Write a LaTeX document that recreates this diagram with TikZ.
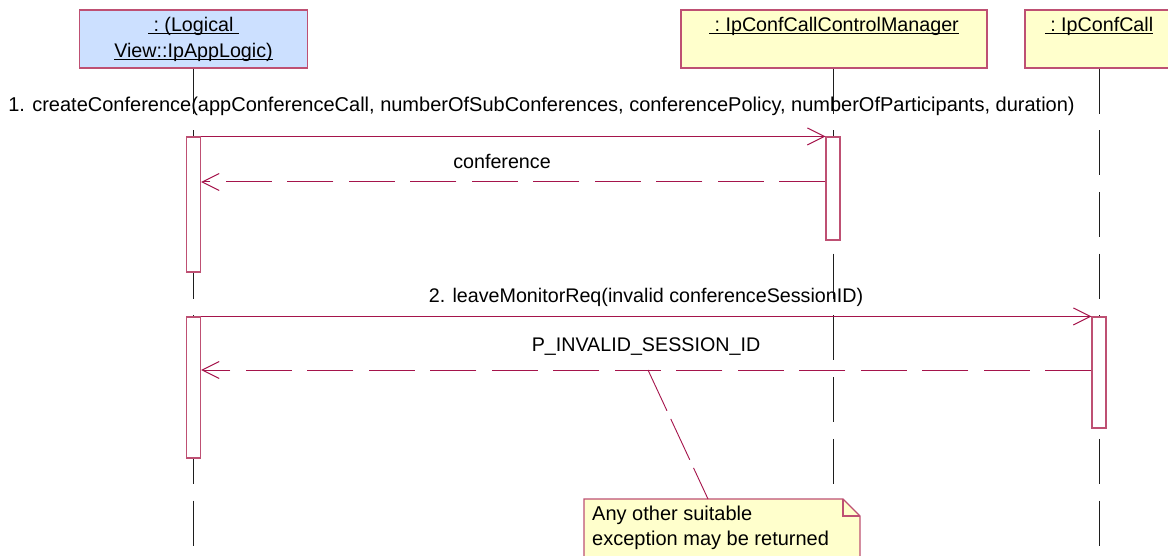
\documentclass[tikz,border=0pt]{standalone}
\usepackage{fontspec}
\setmainfont{Liberation Sans}
\usetikzlibrary{arrows.meta}
\definecolor{boxborder}{RGB}{190,80,115}
\definecolor{msgcol}{RGB}{165,20,75}
\definecolor{objblue}{RGB}{204,224,255}
\definecolor{objyellow}{RGB}{255,255,204}
\definecolor{lifecol}{RGB}{30,30,30}
\newcommand{\ulbox}[1]{\setbox0\hbox{#1}\rlap{\rule[-2.4pt]{\wd0}{1.2pt}}\box0}
\begin{document}
\begin{tikzpicture}[x=1pt,y=-1pt,
  font=\fontsize{19.7}{26}\selectfont,
  txt/.style={inner sep=0pt, anchor=base},
  objbox/.style={draw=boxborder, line width=1.2pt, inner sep=0pt, minimum height=58pt},
  lifeline/.style={draw=lifecol, line width=0.9pt, dash pattern=on 45pt off 16.7pt},
  actbar/.style={draw=boxborder, line width=1.1pt, fill=white, inner sep=0pt, minimum width=14pt},
  msg/.style={draw=msgcol, line width=1pt, -{Straight Barb[length=17pt,width=17pt,line width=1pt]}},
  ret/.style={msg, dash pattern=on 46pt off 15.5pt},
  notebox/.style={draw=boxborder, line width=1.1pt, fill=objyellow},
  notelink/.style={draw=msgcol, line width=0.9pt, dash pattern=on 45pt off 9pt}]
\useasboundingbox (0,0) rectangle (1168,556);
\clip (0,0) rectangle (1168,556);
\fill[white] (0,0) rectangle (1168,556);

% object boxes
\node[objbox, fill=objblue, minimum width=228pt] (obj1) at (193.5,39) {};
\node[objbox, fill=objyellow, minimum width=306pt] (obj2) at (834,39) {};
\node[objbox, fill=objyellow, minimum width=148pt] (obj3) at (1099,39) {};
\node[txt] (obj1a) at (193.5,32) {\ulbox{\ :\ (Logical\ }};
\node[txt] (obj1b) at (193.5,58) {\ulbox{View::IpAppLogic)}};
\node[txt] (obj2t) at (834,32) {\ulbox{\ :\ IpConfCallControlManager}};
\node[txt] (obj3t) at (1099,32) {\ulbox{\ :\ IpConfCall}};

% lifelines
\coordinate (end1) at (193.5,556);
\coordinate (end2) at (833,556);
\coordinate (end3) at (1099,556);
\draw[lifeline] (obj1.south) -- (end1);
\draw[lifeline] (obj2.south -| end2) -- (end2);
\draw[lifeline] (obj3.south) -- (end3);

% activation bars
\node[actbar, minimum height=135pt] (bar1a) at (193.5,204.5) {};
\node[actbar, minimum height=103pt] (bar2) at (833,188.5) {};
\node[actbar, minimum height=141pt] (bar1b) at (193.5,387.5) {};
\node[actbar, minimum height=111pt] (bar3) at (1099,372.5) {};

% messages
\draw[msg] (bar1a.north east) -- (bar2.north west);
\draw[ret] (bar2.west |- 0,182) -- (bar1a.east |- 0,182);
\draw[msg] (bar1b.north east) -- (bar3.north west);
\draw[ret] (bar3.west |- 0,370) -- (bar1b.east |- 0,370);

% labels
\node[txt, font=\fontsize{20}{26}\selectfont] (m1lab) at (541.5,112) {1. createConference(appConferenceCall, numberOfSubConferences, conferencePolicy, numberOfParticipants, duration)};
\node[txt] (r1lab) at (502,169) {conference};
\node[txt] (m2lab) at (646,302) {2. leaveMonitorReq(invalid conferenceSessionID)};
\node[txt] (r2lab) at (646,351) {P\_INVALID\_SESSION\_ID};

% note
\draw[notebox] (584,499) -- (843,499) -- (860,516) -- (860,562) -- (584,562) -- cycle;
\draw[draw=boxborder, line width=1.1pt] (843,499) |- (860,516);
\node[txt, anchor=base west, font=\fontsize{20}{26}\selectfont] (note1) at (592,520) {Any other suitable};
\node[txt, anchor=base west, font=\fontsize{20}{26}\selectfont] (note2) at (592,545) {exception may be returned};
\coordinate (nsrc) at (648,370);
\coordinate (ntgt) at (708,499);
\draw[notelink] (nsrc) -- (ntgt);
\end{tikzpicture}
\end{document}
